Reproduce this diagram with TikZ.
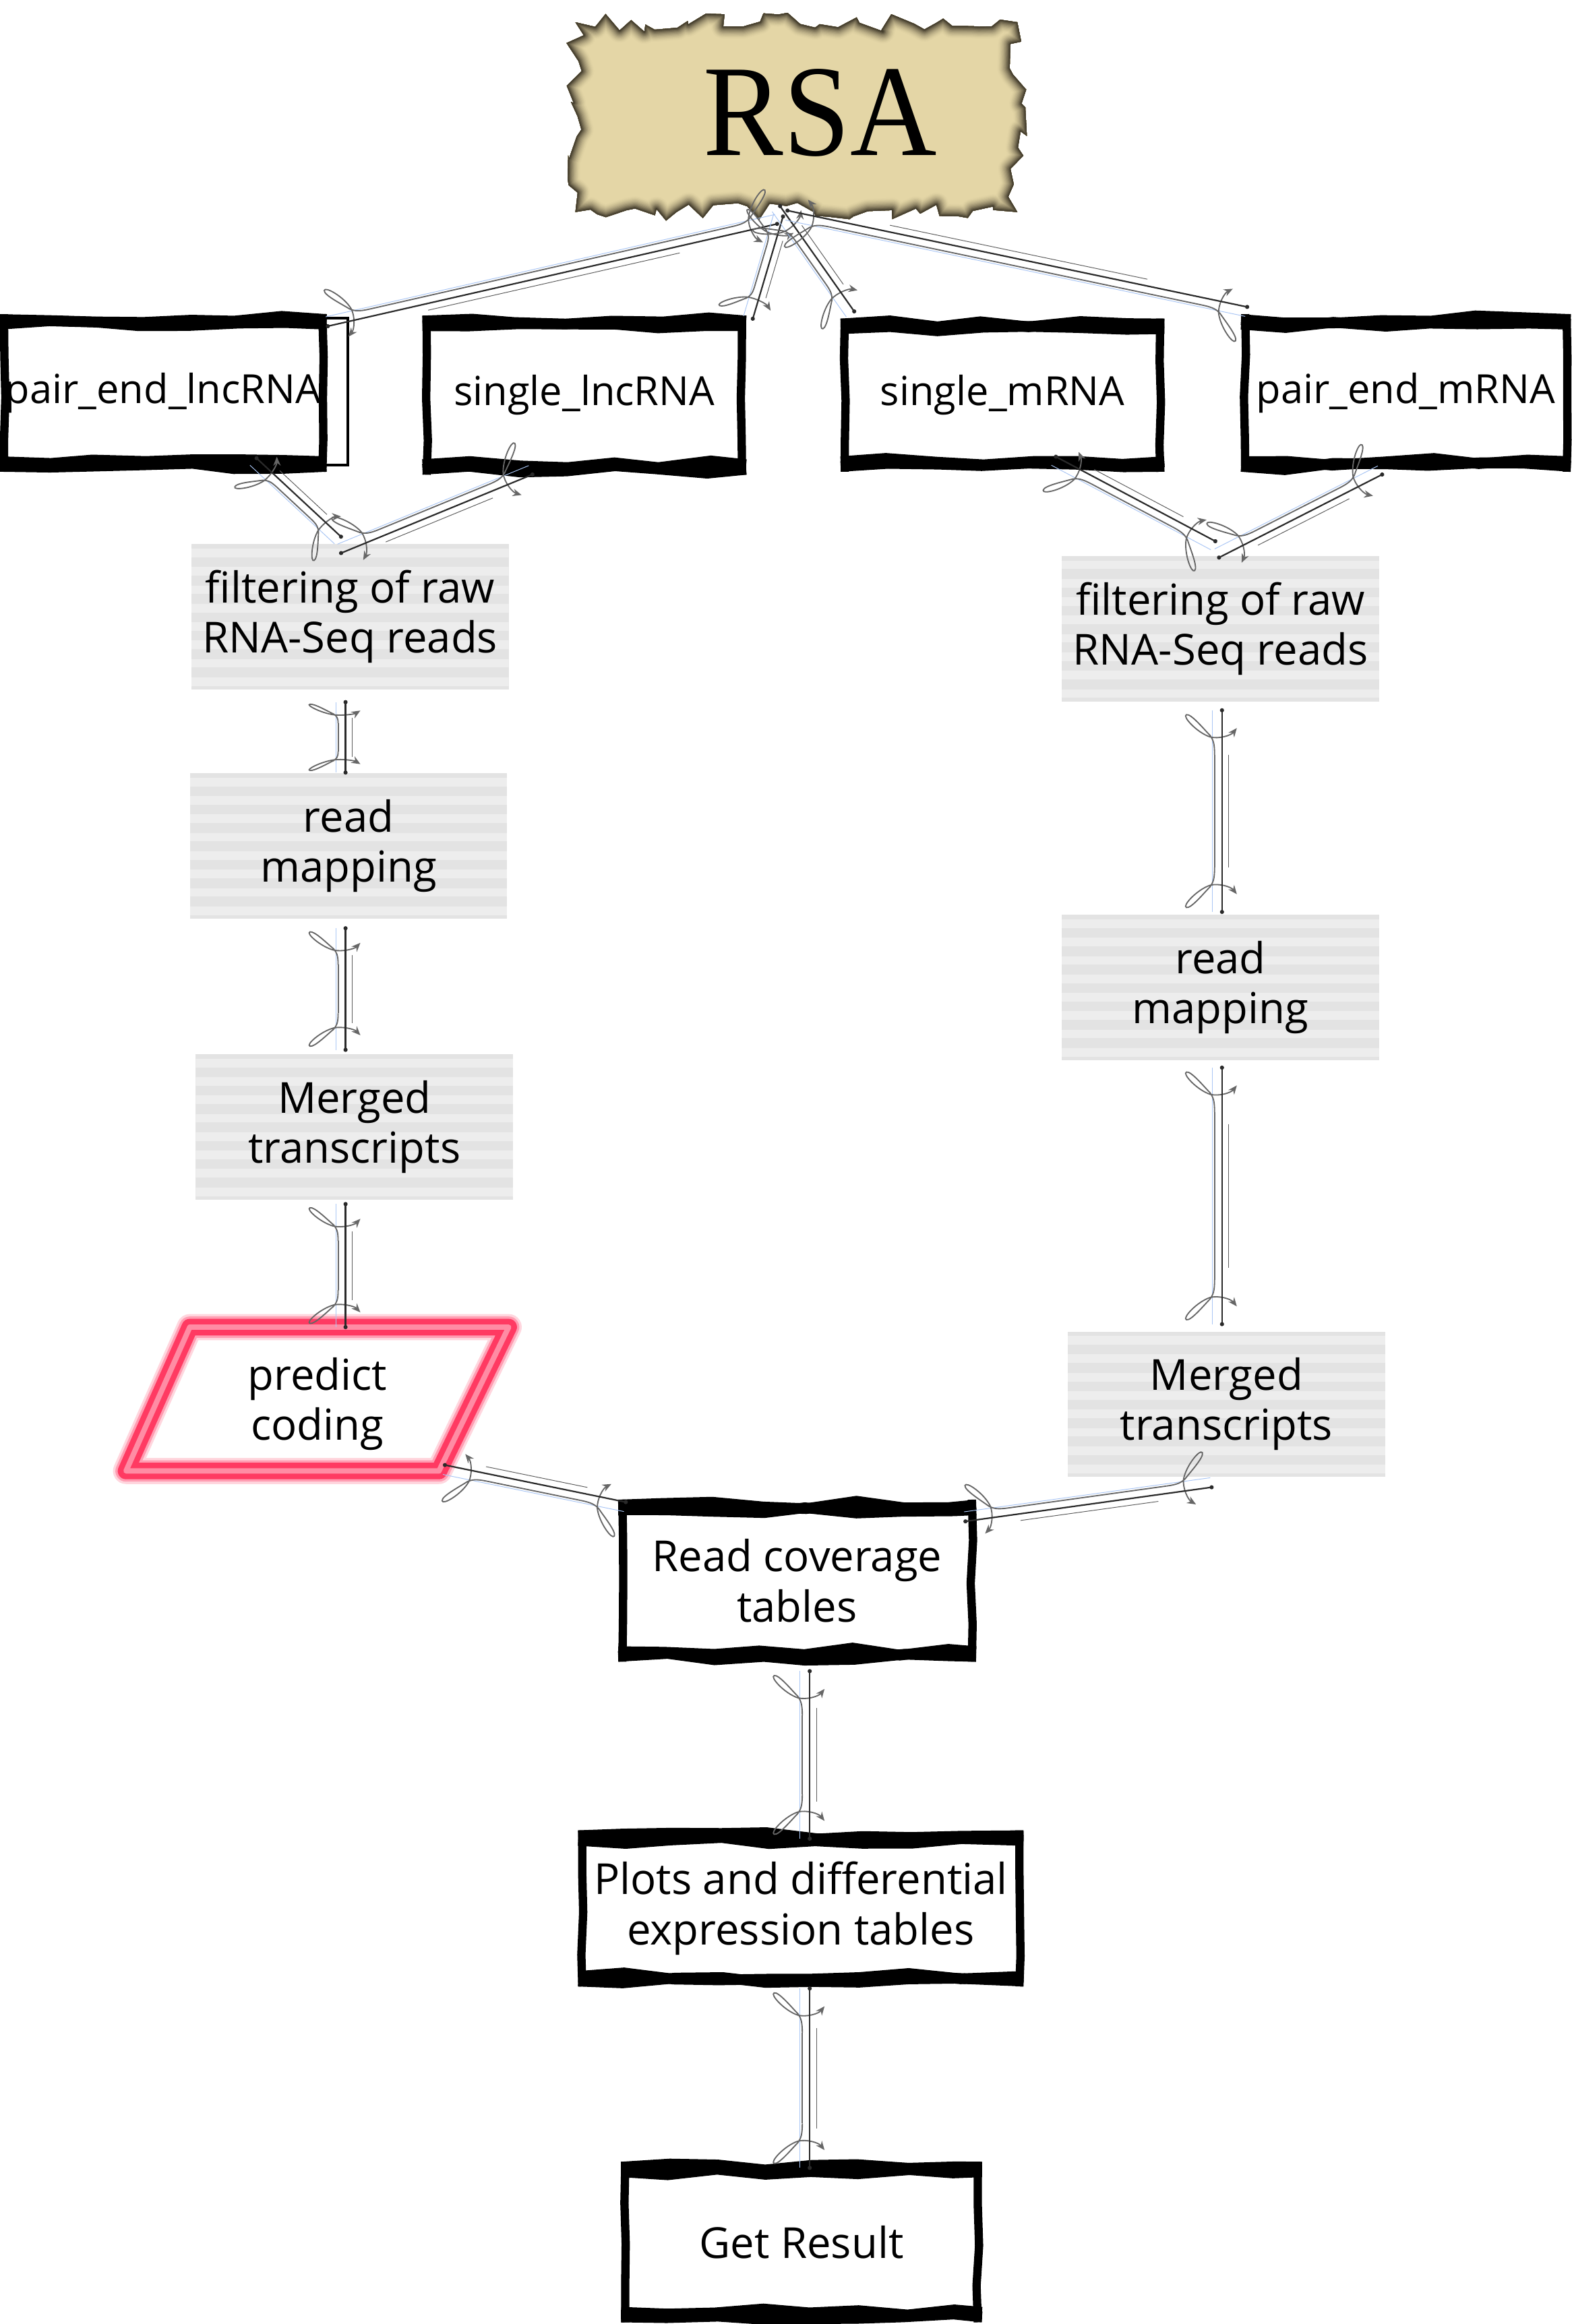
\documentclass[tikz,border=0pt]{standalone}
\usepackage{fontspec}
\usepackage{graphicx}
\newfontfamily\boxfont{Open Sans}
\newfontfamily\rsafont{Liberation Serif}
\usetikzlibrary{decorations.pathmorphing,decorations.markings,arrows.meta,calc}
\definecolor{tanbase}{HTML}{E4D6A6}
\definecolor{tandark}{HTML}{433C2C}
\definecolor{grayfill}{HTML}{E3E3E3}
\definecolor{cdark}{HTML}{2A2A2A}
\definecolor{cgray}{HTML}{666666}
\definecolor{cthin}{HTML}{5C5C5C}
\definecolor{cblue}{HTML}{A9C6F5}
\definecolor{pgA}{HTML}{FFD6DE}
\definecolor{pgB}{HTML}{FF9DB2}
\definecolor{pgC}{HTML}{FF3A62}
\definecolor{pgD}{HTML}{FF8CA4}
\newcommand\bigtxt{\boxfont\fontsize{41pt}{48pt}\selectfont}
\newcommand\toptxt{\boxfont\fontsize{38.5pt}{46pt}\selectfont}
\newcommand\connbody{%
  \pgfmathsetmacro\cLen{\pgfdecoratedpathlength/1.42264}%
  \pgfmathsetmacro\cSc{min(1,\cLen/100)}%
  \draw[cblue, line width=0.22mm] (0,6.5) -- (\cLen,6.5);
  \draw[cthin, line width=0.22mm] ({0.22*\cLen},-4.5) -- ({0.78*\cLen},-4.5);
  \draw[cgray, line width=0.42mm] ({30*\cSc},5) -- ({\cLen-30*\cSc},5);
  \begin{scope}[xscale=\cSc]
    \draw[loopline] (30,5) .. controls (22,5) and (20,6) .. (17,8) .. controls (13,12) and (2,21) .. (3,24) .. controls (4,27) and (15,17) .. (18,8) .. controls (19.5,2) and (17,-6) .. (12,-10);
  \end{scope}
  \begin{scope}[shift={(\cLen,0)},xscale=\cSc]
    \draw[loopline] (-30,5) .. controls (-22,5) and (-20,6) .. (-17,8) .. controls (-13,12) and (-2,21) .. (-3,24) .. controls (-4,27) and (-15,17) .. (-18,8) .. controls (-19.5,2) and (-17,-6) .. (-12,-10);
  \end{scope}
  \draw[cdark, line width=0.5mm] (0,0) -- (\cLen,0);
  \fill[cdark] (0,0) circle (1.4) (\cLen,0) circle (1.4);
}
\newcommand\bframe[1]{%
  \draw[bband] ([yshift=-1.8mm]#1.north west) -- ([yshift=-1.8mm]#1.north east);
  \draw[bband] ([yshift=-3.4mm]#1.north west) -- ([yshift=-3.4mm]#1.north east);
  \draw[bcore] ([yshift=-2.6mm]#1.north west) -- ([yshift=-2.6mm]#1.north east);
  \draw[bband] ([yshift=1.8mm]#1.south west) -- ([yshift=1.8mm]#1.south east);
  \draw[bband] ([yshift=3.4mm]#1.south west) -- ([yshift=3.4mm]#1.south east);
  \draw[bcore] ([yshift=2.6mm]#1.south west) -- ([yshift=2.6mm]#1.south east);
  \draw[bside] ([xshift=1.4mm]#1.north west) -- ([xshift=1.4mm]#1.south west);
  \draw[bside] ([xshift=-1.4mm]#1.north east) -- ([xshift=-1.4mm]#1.south east);
}
\tikzset{
  txt/.style={align=center, inner sep=0pt},
  bbox/.style={txt, fill=white},
  graybox/.style={txt, font=\bigtxt, fill=grayfill, minimum width=107mm, minimum height=49mm,
    path picture={\foreach \k in {0,...,7}{\fill[white,opacity=0.38] ([yshift={-(\k*6.2+1.5)*1mm}]path picture bounding box.north west) rectangle ([yshift={-(\k*6.2+4.4)*1mm}]path picture bounding box.north east);}}},
  bband/.style={black, line width=3.6mm, line cap=butt, decorate, decoration={random steps, segment length=16mm, amplitude=1.3mm}},
  bcore/.style={black, line width=3mm, line cap=butt},
  bside/.style={black, line width=2.8mm, line cap=butt, decorate, decoration={random steps, segment length=14mm, amplitude=0.5mm}},
  torn/.style={decorate, decoration={random steps, segment length=4mm, amplitude=3.3mm}},
  loopline/.style={cgray, line width=0.42mm, -{Stealth[length=3mm,width=2.5mm]}},
  conn/.style={decoration={markings, mark=at position 0 with {\connbody}}, postaction={decorate}},
}
\begin{document}
\begin{tikzpicture}[x=0.5mm,y=-0.5mm]
\pgfmathsetseed{7}
\useasboundingbox (0,0) rectangle (1060,1567.3);
\fill[white] (0,0) rectangle (1060,1567.3);

% ---------- RSA torn paper ----------
\begin{scope}
  \pgfmathsetseed{2024}
  \clip[torn] (388,15) rectangle (686,143);
  \fill[tanbase] (360,0) rectangle (720,170);
  \foreach \i in {1,...,16}{
    \pgfmathsetmacro\w{(17-\i)*0.55}
    \pgfmathtruncatemacro\p{100*(\i/16)^1.8}
    \pgfmathsetseed{2024}
    \draw[torn, line join=round, line width=\w mm, color=tandark!\p!tanbase] (388,15) rectangle (686,143);
  }
\end{scope}
\node[inner sep=0pt] (rsa) at (553,76) {\rsafont\fontsize{125pt}{125pt}\selectfont\scalebox{0.92}[1]{RSA}};

% ---------- gray boxes ----------
\node[graybox] (fL) at (236,416) {filtering of raw\\RNA-Seq reads};
\node[graybox] (rL) at (235,570.5) {read\\mapping};
\node[graybox] (mL) at (239,760) {Merged\\transcripts};
\node[graybox] (fR) at (823,424) {filtering of raw\\RNA-Seq reads};
\node[graybox] (rR) at (823,666) {read\\mapping};
\node[graybox] (mR) at (827,947) {Merged\\transcripts};

% ---------- black boxes ----------
\draw[black, line width=0.9mm] (205,214.5) rectangle (234.5,313.5);
\node[bbox, font=\toptxt, minimum width=110mm, minimum height=53mm] (pel) at (110,265) {pair\_end\_lncRNA};
\node[bbox, font=\toptxt, minimum width=109mm, minimum height=53.5mm] (sl) at (394,266.5) {single\_lncRNA};
\node[bbox, font=\toptxt, minimum width=109mm, minimum height=51.5mm] (sm) at (676,266.5) {single\_mRNA};
\node[bbox, font=\toptxt, minimum width=111mm, minimum height=53mm] (pem) at (948,265) {pair\_end\_mRNA};
\node[bbox, font=\bigtxt, minimum width=120.5mm, minimum height=54.5mm] (rc) at (537.5,1066) {Read coverage\\tables};
\node[bbox, font=\bigtxt, minimum width=150mm, minimum height=52.5mm] (pd) at (540,1287) {Plots and differential\\expression tables};
\node[bbox, font=\bigtxt, minimum width=121.5mm, minimum height=54mm] (gr) at (540.5,1512) {Get Result};
\bframe{pel}\bframe{sl}\bframe{sm}\bframe{pem}\bframe{rc}\bframe{pd}\bframe{gr}

% ---------- parallelogram ----------
\coordinate (p1) at (128,895);
\coordinate (p2) at (343,895);
\coordinate (p3) at (296,992);
\coordinate (p4) at (85,992);
\draw[pgA, line width=8.8mm, line join=round] (p1) -- (p2) -- (p3) -- (p4) -- cycle;
\draw[pgB, line width=7.2mm, line join=round] (p1) -- (p2) -- (p3) -- (p4) -- cycle;
\draw[pgC, line width=5.6mm, line join=round] (p1) -- (p2) -- (p3) -- (p4) -- cycle;
\draw[pgD, line width=1.8mm, line join=round] (p1) -- (p2) -- (p3) -- (p4) -- cycle;
\node[txt, font=\bigtxt] (pc) at (214,947) {predict\\coding};

% ---------- connector end points ----------
\coordinate (c1s) at (524,151);   \coordinate (c1e) at (221,220);
\coordinate (c2s) at (528,146);   \coordinate (c2e) at (507.6,215);
\coordinate (c3s) at (526,139);   \coordinate (c3e) at (576,210);
\coordinate (c4s) at (531,142);   \coordinate (c4e) at (841,207);
\coordinate (c5s) at (173,309);   \coordinate (c5e) at (230,362);
\coordinate (c6s) at (359,320);   \coordinate (c6e) at (230,373);
\coordinate (c7s) at (712,308);   \coordinate (c7e) at (819.5,365);
\coordinate (c8s) at (932,320);   \coordinate (c8e) at (822,376);
\coordinate (c9s) at (233,473.5); \coordinate (c9e) at (233,521);
\coordinate (c10s) at (233,626);  \coordinate (c10e) at (233,708);
\coordinate (c11s) at (233,812);  \coordinate (c11e) at (233,895);
\coordinate (c12s) at (824,479);  \coordinate (c12e) at (824,615);
\coordinate (c13s) at (824,720);  \coordinate (c13e) at (824,893);
\coordinate (c14s) at (300,988);  \coordinate (c14e) at (422,1013);
\coordinate (c15s) at (817,1003); \coordinate (c15e) at (651,1026);
\coordinate (c16s) at (546,1127); \coordinate (c16e) at (546,1240);
\coordinate (c17s) at (546,1341); \coordinate (c17e) at (546,1462);

% ---------- connectors ----------
\path[conn] (c1s) -- (c1e);
\path[conn] (c2s) -- (c2e);
\path[conn] (c3s) -- (c3e);
\path[conn] (c4s) -- (c4e);
\path[conn] (c5s) -- (c5e);
\path[conn] (c6s) -- (c6e);
\path[conn] (c7s) -- (c7e);
\path[conn] (c8s) -- (c8e);
\path[conn] (c9s) -- (c9e);
\path[conn] (c10s) -- (c10e);
\path[conn] (c11s) -- (c11e);
\path[conn] (c12s) -- (c12e);
\path[conn] (c13s) -- (c13e);
\path[conn] (c14s) -- (c14e);
\path[conn] (c15s) -- (c15e);
\path[conn] (c16s) -- (c16e);
\path[conn] (c17s) -- (c17e);
\end{tikzpicture}
\end{document}
